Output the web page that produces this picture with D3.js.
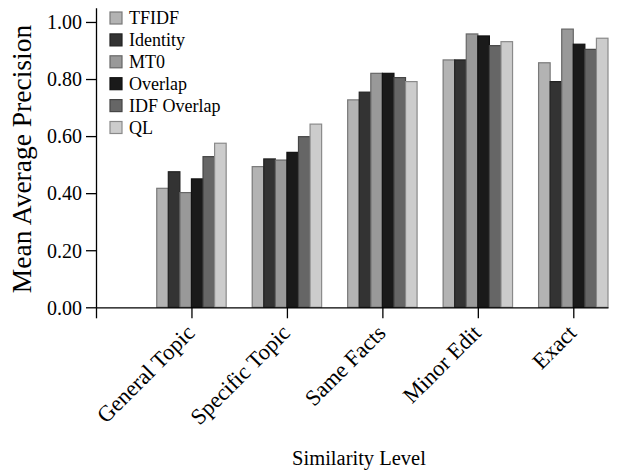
<!DOCTYPE html>
<html>
<head>
<meta charset="utf-8">
<script src="https://cdn.jsdelivr.net/npm/d3@7"></script>
<style>
  body { margin: 0; background: #fff; }
  svg { font-family: "Liberation Serif", "Times New Roman", serif; }
  .axis path, .axis line { stroke: #000; stroke-width: 1.3; }
  .axis text { font-family: "Liberation Serif", "Times New Roman", serif; font-size: 20px; fill: #000; }
  .axis.x text { font-size: 22.5px; }
</style>
</head>
<body>
<div id="chart"></div>
<script>
// first slot is an unlabelled zero group sitting on the y axis
var categories = ["", "General Topic", "Specific Topic", "Same Facts", "Minor Edit", "Exact"];
var series = ["TFIDF", "Identity", "MT0", "Overlap", "IDF Overlap", "QL"];
var fills = ["#b3b3b3", "#333333", "#999999", "#1a1a1a", "#666666", "#cccccc"];
var tfidf      = [0, 0.417, 0.493, 0.727, 0.867, 0.857];
var identity   = [0, 0.475, 0.520, 0.754, 0.867, 0.791];
var mt0        = [0, 0.402, 0.516, 0.820, 0.958, 0.975];
var overlap    = [0, 0.450, 0.543, 0.820, 0.951, 0.922];
var idfOverlap = [0, 0.528, 0.598, 0.805, 0.917, 0.904];
var ql         = [0, 0.575, 0.642, 0.791, 0.931, 0.943];
var yTicks = [0, 0.2, 0.4, 0.6, 0.8, 1.0];

var values = [tfidf, identity, mt0, overlap, idfOverlap, ql];

var ch = {
	w: 618, h: 475,
	left: 96, right: 608, top: 7.7, bottom: 307.3,
	barW: 0.1212,
	svg: null
};

ch.svg = d3.select('#chart').append('svg')
	.attr('width', ch.w)
	.attr('height', ch.h);

var groupW = ch.barW * series.length;
var x = d3.scaleLinear()
	.domain([0, categories.length - 1 + groupW / 2])
	.range([ch.left, ch.right]);
var y = d3.scaleLinear()
	.domain([0, 1.05])
	.range([ch.bottom, ch.top]);

ch.svg.append('clipPath').attr('id', 'plot')
	.append('rect')
	.attr('x', ch.left).attr('y', 0)
	.attr('width', ch.right - ch.left + 2).attr('height', ch.bottom + 2);

var bars = [];
values.forEach(function(vals, s) {
	vals.forEach(function(v, c) {
		bars.push({s: s, c: c, v: v});
	});
});

ch.svg.append('g')
	.attr('class', 'bars')
	.attr('clip-path', 'url(#plot)')
	.selectAll('rect')
	.data(bars)
	.enter()
	.append('rect')
		.attr('x', d => x(d.c - groupW / 2 + d.s * ch.barW))
		.attr('y', d => y(d.v))
		.attr('width', x(ch.barW) - x(0))
		.attr('height', d => y(0) - y(d.v))
		.attr('fill', d => fills[d.s])
		.attr('stroke', d => d3.color(fills[d.s]).darker(1.1))
		.attr('stroke-width', 1.2);

var xAxis = d3.axisBottom(x)
	.tickValues(d3.range(categories.length))
	.tickFormat(i => categories[i])
	.tickSize(11)
	.tickSizeOuter(0);
var yAxis = d3.axisLeft(y)
	.tickValues(yTicks)
	.tickFormat(d3.format('.2f'))
	.tickSize(10)
	.tickPadding(4)
	.tickSizeOuter(0);

ch.svg.append('g')
	.attr('class', 'axis x')
	.attr('transform', 'translate(0,' + ch.bottom + ')')
	.call(xAxis)
	.call(g => g.selectAll('text')
		.attr('text-anchor', 'end')
		.attr('dy', null)
		.attr('y', null)
		.attr('transform', 'translate(4,27) rotate(-45)'));

ch.svg.append('g')
	.attr('class', 'axis y')
	.attr('transform', 'translate(' + ch.left + ',0)')
	.call(yAxis)
	.call(g => g.selectAll('text').attr('dy', '0.34em'));

// legend
var legend = ch.svg.append('g')
	.attr('class', 'legend')
	.attr('transform', 'translate(110,12)');
var item = legend.selectAll('g')
	.data(series)
	.enter()
	.append('g')
		.attr('transform', (d, i) => 'translate(0,' + (i * 21.9) + ')');
item.append('rect')
	.attr('width', 12).attr('height', 12)
	.attr('fill', (d, i) => fills[i])
	.attr('stroke', (d, i) => d3.color(fills[i]).darker(1.1))
	.attr('stroke-width', 1.2);
item.append('text')
	.attr('x', 19).attr('y', 12)
	.attr('font-size', '18px')
	.text(d => d);

ch.svg.append('text')
	.attr('transform', 'translate(31,159) rotate(-90)')
	.attr('text-anchor', 'middle')
	.attr('font-size', '27.5px')
	.text('Mean Average Precision');

ch.svg.append('text')
	.attr('transform', 'translate(359,465)')
	.attr('text-anchor', 'middle')
	.attr('font-size', '20.5px')
	.text('Similarity Level');
</script>
</body>
</html>
